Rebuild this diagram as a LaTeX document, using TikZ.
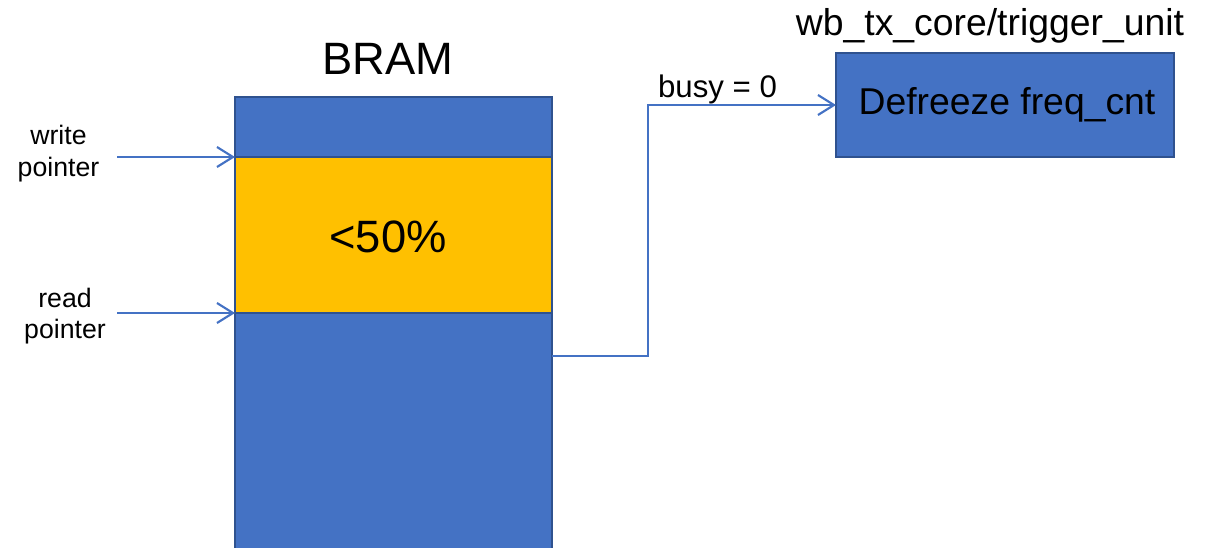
\documentclass[tikz,border=0pt]{standalone}
\usepackage{fontspec}
\setmainfont{Liberation Sans}
\usetikzlibrary{arrows.meta,calc}

\definecolor{cellblue}{HTML}{4472C4}
\definecolor{celledge}{HTML}{2F528F}
\definecolor{cellgold}{HTML}{FFC000}

\tikzset{
  cell/.style={draw=celledge, line width=1.5pt, rectangle, inner sep=0pt, outer sep=0pt},
  bluecell/.style={cell, fill=cellblue},
  goldcell/.style={cell, fill=cellgold},
  wire/.style={draw=cellblue, line width=1.6pt,
    -{Straight Barb[length=12pt,width=15pt,line width=1.6pt]}},
  lbl/.style={inner sep=0pt, text=black},
}

\begin{document}
\begin{tikzpicture}[x=0.75pt, y=-0.75pt]
  \useasboundingbox (0,0) rectangle (1211,547);

  % BRAM column: upper free area, filled region, lower free area
  \node[bluecell, minimum width=237.75pt, minimum height=45pt]     (top)  at (393.5,127)   {};
  \node[bluecell, minimum width=237.75pt, minimum height=185.25pt] (low)  at (393.5,436.5) {};
  \node[goldcell, minimum width=237.75pt, minimum height=117pt]    (fill) at (393.5,235)   {};
  \node[lbl, font=\fontsize{34}{40}\selectfont] (fillpct) at (388,237) {<50\%};

  \node[lbl, font=\fontsize{34}{40}\selectfont, anchor=base] (bramtitle) at (388,74.3) {BRAM};

  % pointer labels and arrows
  \node[lbl, align=center, font=\fontsize{20}{23.7}\selectfont] (wlabel) at (58.5,153.5) {write\\pointer};
  \node[lbl, align=center, font=\fontsize{20}{23.7}\selectfont] (rlabel) at (65,316) {read\\pointer};
  \coordinate (wstart) at ($(fill.north west)+(-118,0)$);
  \coordinate (rstart) at ($(fill.south west)+(-118,0)$);
  \draw[wire] (wstart) -- (fill.north west);
  \draw[wire] (rstart) -- (fill.south west);

  % trigger unit
  \node[bluecell, minimum width=253.5pt, minimum height=78pt] (defr) at (1005,105) {};
  \node[lbl, font=\fontsize{28}{33}\selectfont] (defrtext) at (1007,105) {Defreeze freq\_cnt};
  \node[lbl, font=\fontsize{28}{33}\selectfont, anchor=base] (unittitle) at (990,35) {wb\_tx\_core/trigger\_unit};

  % busy signal from the BRAM to the trigger unit
  \coordinate (busysrc) at ($(low.north east)+(0,43)$);
  \draw[wire] (busysrc) -- ++(96,0) |- (defr.west);
  \node[lbl, font=\fontsize{23.4}{28}\selectfont, anchor=base] (busylbl) at (717.5,97) {busy = 0};
\end{tikzpicture}
\end{document}
